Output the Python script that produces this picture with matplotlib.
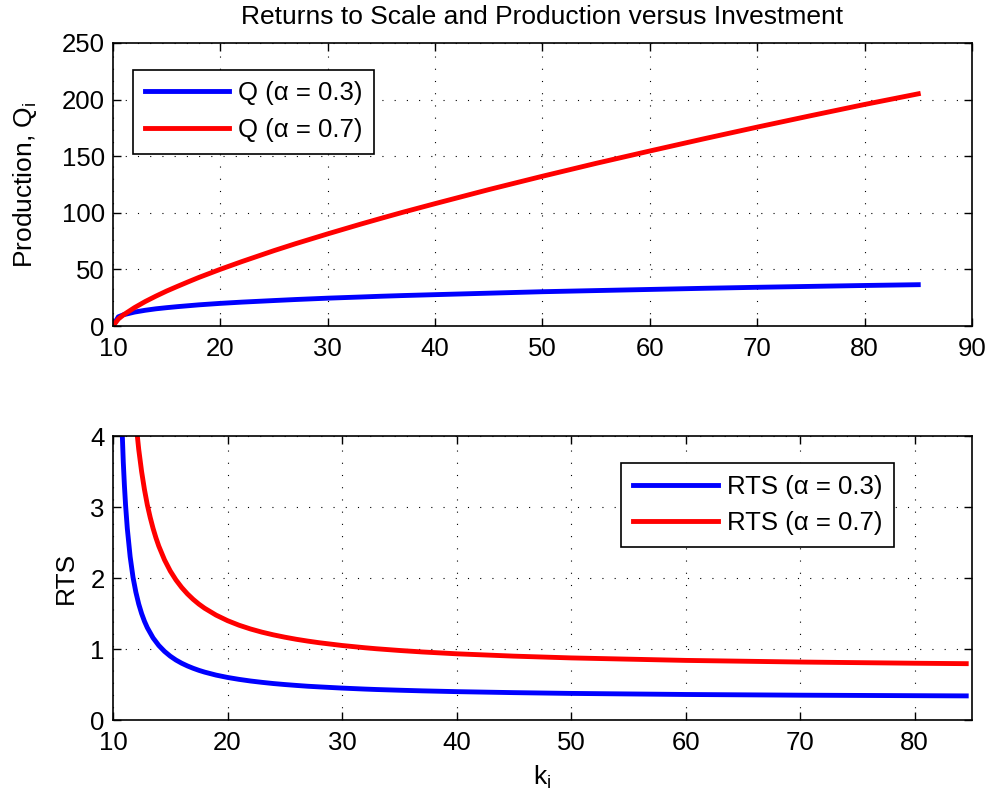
import matplotlib
matplotlib.use("Agg")
import matplotlib.pyplot as plt

plt.rcParams['font.family'] = ['Liberation Sans', 'DejaVu Sans']
plt.rcParams['mathtext.fontset'] = 'custom'
plt.rcParams['mathtext.rm'] = 'Liberation Sans'
plt.rcParams['mathtext.it'] = 'Liberation Sans:italic'
plt.rcParams['font.size'] = 18.5

# production Q = f(k) for the two exponents
k_q = [10, 10.5, 11, 12, 13, 14, 15, 16, 17, 18, 20, 22, 25, 27, 30, 33, 35, 37, 40, 45,
       50, 55, 60, 65, 70, 75, 80, 85]
q_03 = [0, 8.1, 10, 12.3, 13.9, 15.2, 16.2, 17.1, 17.9, 18.7, 20.0, 21.1, 22.5, 23.4, 24.6, 25.6,
        26.3, 26.9, 27.7, 29.0, 30.3, 31.3, 32.3, 33.3, 34.2, 35.0, 35.8, 36.5]
q_07 = [0, 6.2, 10, 16.2, 21.6, 26.4, 30.9, 35.0, 39.0, 42.9, 50.1, 56.9, 66.6, 72.7, 81.4, 89.8,
        95.2, 100.5, 108.1, 120.5, 132.3, 143.7, 154.6, 165.3, 175.7, 185.8, 195.7, 205.1]

# returns to scale
k_rts_03 = [10.75, 10.9, 11, 11.1, 11.25, 11.5, 11.75, 12, 12.25, 12.5, 12.75, 13, 13.5, 14,
            14.5, 15, 15.5, 16, 16.5, 17, 17.5, 18, 19, 20, 21, 22, 23, 24, 25, 26, 27, 28,
            30, 32, 33, 35, 37, 40, 45, 50, 60, 70, 80, 84.5]
rts_03 = [4.3, 3.633, 3.3, 3.027, 2.7, 2.3, 2.01, 1.8, 1.633, 1.5, 1.391, 1.3, 1.157, 1.05,
          0.967, 0.9, 0.845, 0.8, 0.762, 0.729, 0.7, 0.675, 0.633, 0.6, 0.573, 0.55, 0.531,
          0.514, 0.5, 0.4875, 0.476, 0.467, 0.45, 0.436, 0.43, 0.42, 0.411, 0.4, 0.386,
          0.375, 0.36, 0.35, 0.343, 0.34]
k_rts_07 = [12, 12.25, 12.5, 12.75, 13, 13.25, 13.5, 13.75, 14, 14.5, 15, 15.5, 16, 16.5, 17,
            17.5, 18, 19, 20, 21, 22, 23, 24, 25, 26, 27, 28, 30, 32, 33, 35, 37, 40, 45, 50,
            60, 70, 80, 84.5]
rts_07 = [4.2, 3.81, 3.5, 3.245, 3.03, 2.854, 2.7, 2.567, 2.45, 2.256, 2.1, 1.973, 1.867,
          1.777, 1.7, 1.633, 1.575, 1.478, 1.4, 1.336, 1.283, 1.238, 1.2, 1.167, 1.1375, 1.112,
          1.089, 1.05, 1.018, 1.004, 0.98, 0.959, 0.933, 0.9, 0.875, 0.84, 0.817, 0.8, 0.794]

fig = plt.figure(figsize=(9.91, 8.02), dpi=100)
ax1 = fig.add_axes([0.114, 0.5935, 0.8668, 0.3529])
ax2 = fig.add_axes([0.114, 0.1022, 0.8668, 0.3541])

lw = 3.5
ax1.plot(k_q, q_03, color='#0000ff', lw=lw, label='Q (α = 0.3)', solid_joinstyle='round')
ax1.plot(k_q, q_07, color='#ff0000', lw=lw, label='Q (α = 0.7)', solid_joinstyle='round')
ax1.set_xlim(10, 90)
ax1.set_ylim(0, 250)
ax1.set_xticks(range(10, 91, 10))
ax1.set_yticks(range(0, 251, 50))
ax1.set_ylabel(r'Production, Q$_\mathrm{i}$', labelpad=16, fontsize=19)
ax1.set_title('Returns to Scale and Production versus Investment', pad=14, fontsize=19)

ax2.plot(k_rts_03, rts_03, color='#0000ff', lw=lw, label='RTS (α = 0.3)', solid_joinstyle='round')
ax2.plot(k_rts_07, rts_07, color='#ff0000', lw=lw, label='RTS (α = 0.7)', solid_joinstyle='round')
ax2.set_xlim(10, 85)
ax2.set_ylim(0, 4)
ax2.set_xticks(range(10, 81, 10))
ax2.set_yticks(range(0, 5))
ax2.set_ylabel('RTS', labelpad=9, fontsize=19)
ax2.set_xlabel(r'k$_\mathrm{i}$', labelpad=6, fontsize=19)

for ax in (ax1, ax2):
    ax.grid(True, color='black', lw=0.8, linestyle=(0, (1, 10)))
    ax.tick_params(direction='in', top=True, right=True, length=6, width=1)
    ax.tick_params(axis='x', pad=8)
    ax.tick_params(axis='y', pad=6)
    for s in ax.spines.values():
        s.set_linewidth(1.2)

leg_kw = dict(fancybox=False, edgecolor='black', framealpha=1, handlelength=3.3,
              handletextpad=0.35, borderaxespad=0, labelspacing=0.5, borderpad=0.45)
l1 = ax1.legend(loc='upper left', bbox_to_anchor=(0.0233, 0.905), **leg_kw)
l2 = ax2.legend(loc='upper right', bbox_to_anchor=(0.909, 0.905), **leg_kw)
for l in (l1, l2):
    l.get_frame().set_linewidth(1.2)

fig.savefig('out.png', dpi=100)
